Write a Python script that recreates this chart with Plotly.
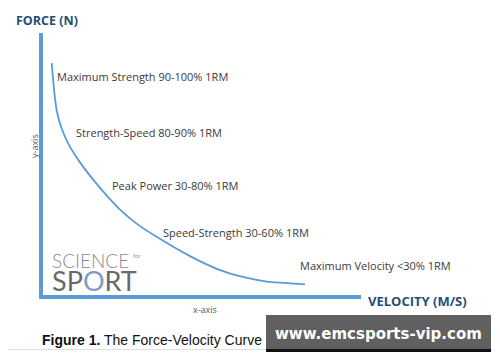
import plotly.graph_objects as go

# ---- data (velocity units 0-100, force units 0-100) ----
velocity = [3.34, 3.66, 4.25, 5.0, 6.41, 8.28, 10.63, 13.44, 16.88, 20.63, 24.69,
            30.0, 36.25, 46.56, 55.94, 63.75, 70.63, 82.5]
force = [88.6, 84.1, 76.5, 70.1, 64.0, 58.7, 53.8, 48.9, 43.6, 38.3, 33.1,
         27.7, 22.7, 15.5, 10.2, 7.4, 5.8, 4.8]

zone_labels = [
    "Maximum Strength 90-100% 1RM",
    "Strength-Speed 80-90% 1RM",
    "Peak Power 30-80% 1RM",
    "Speed-Strength 30-60% 1RM",
    "Maximum Velocity <30% 1RM",
]

W, H = 500, 362
OFF = 8  # page body margin
# screen-pixel mapping of the axes: origin at (41, 297); 100 units -> 320 px in x, 264 px in y
X0, Y0, SX, SY = 41 - OFF, 297 - OFF, 3.2, 2.64
xr = [(0 - X0) / SX, (W - X0) / SX]
yr = [(Y0 - H) / SY, (Y0 - 0) / SY]

def dx(px):
    return (px - OFF - X0) / SX

def dy(py):
    return (Y0 - (py - OFF)) / SY

def pxp(px):
    return (px - OFF) / W

def pyp(py):
    return 1 - (py - OFF) / H

BLUE = "#5b9bd5"
DARK = "#1f4e79"

fig = go.Figure()
fig.add_trace(go.Scatter(x=velocity, y=force, mode="lines",
                         line=dict(color=BLUE, width=1.8, shape="spline", smoothing=0.5),
                         hoverinfo="skip", showlegend=False))

shapes = [
    dict(type="line", xref="x", yref="y", x0=0, y0=0, x1=0, y1=100,
         line=dict(color=BLUE, width=4)),
    dict(type="line", xref="x", yref="y", x0=-0.6, y0=0, x1=100, y1=0,
         line=dict(color=BLUE, width=4)),
    dict(type="line", xref="paper", yref="paper", x0=-0.1, x1=1.1, y0=pyp(349.5), y1=pyp(349.5),
         line=dict(color="#e0e0e0", width=1)),
    dict(type="rect", xref="paper", yref="paper", x0=pxp(266), x1=pxp(491), y0=pyp(349), y1=pyp(315),
         fillcolor="#606060", line=dict(width=0)),
    dict(type="rect", xref="paper", yref="paper", x0=pxp(266), x1=pxp(491), y0=pyp(352), y1=pyp(349),
         fillcolor="#111111", line=dict(width=0)),
]

label_pos = [(54.7, 76.7), (73.7, 132.3), (109.7, 185), (161.3, 232.7), (298, 265)]
ann = []
for t, (lx, ly) in zip(zone_labels, label_pos):
    ann.append(dict(x=dx(lx), y=dy(ly), xref="x", yref="y", text=t, showarrow=False,
                    xanchor="left", yanchor="middle",
                    font=dict(family="Open Sans", size=11, color="#3a3a3a")))

ann += [
    dict(x=pxp(14), y=pyp(21), xref="paper", yref="paper", text="<b>FORCE (N)</b>",
         showarrow=False, xanchor="left", yanchor="middle",
         font=dict(family="Open Sans", size=12.5, color=DARK)),
    dict(x=pxp(366), y=pyp(300.5), xref="paper", yref="paper", text="<b>VELOCITY (M/S)</b>",
         showarrow=False, xanchor="left", yanchor="middle",
         font=dict(family="Open Sans", size=13, color=DARK)),
    dict(x=pxp(34), y=pyp(146), xref="paper", yref="paper", text="y-axis", textangle=-90,
         showarrow=False, xanchor="center", yanchor="middle",
         font=dict(family="Open Sans", size=9, color="#555555")),
    dict(x=pxp(205), y=pyp(309), xref="paper", yref="paper", text="x-axis",
         showarrow=False, xanchor="center", yanchor="middle",
         font=dict(family="Open Sans", size=9, color="#555555")),
    dict(x=pxp(40), y=pyp(340), xref="paper", yref="paper",
         text="<b>Figure 1.</b> The Force-Velocity Curve",
         showarrow=False, xanchor="left", yanchor="middle",
         font=dict(family="Liberation Sans", size=14, color="#111111")),
    dict(x=pxp(378.5), y=pyp(334), xref="paper", yref="paper",
         text="<b>www.emcsports-vip.com</b>",
         showarrow=False, xanchor="center", yanchor="middle",
         font=dict(family="DejaVu Sans", size=15, color="#ffffff")),
    dict(x=pxp(50), y=pyp(260), xref="paper", yref="paper", text="SCIENCE",
         showarrow=False, xanchor="left", yanchor="middle",
         font=dict(family="Lato", size=19, color="#8a8a8a", weight=300)),
    dict(x=pxp(131), y=pyp(255), xref="paper", yref="paper", text="for",
         showarrow=False, xanchor="left", yanchor="middle",
         font=dict(family="Lato", size=6, color="#9a9a9a")),
    dict(x=pxp(50), y=pyp(280), xref="paper", yref="paper",
         text="SP<span style='color:#7c9cc4'>O</span>RT",
         showarrow=False, xanchor="left", yanchor="middle",
         font=dict(family="Lato", size=27, color="#6a6a6a")),
]

fig.update_layout(
    width=W, height=H, margin=dict(l=0, r=0, t=0, b=0),
    paper_bgcolor="white", plot_bgcolor="white",
    xaxis=dict(range=xr, visible=False, fixedrange=True),
    yaxis=dict(range=yr, visible=False, fixedrange=True),
    shapes=shapes, annotations=ann, showlegend=False,
)

fig.write_html("out.html")
